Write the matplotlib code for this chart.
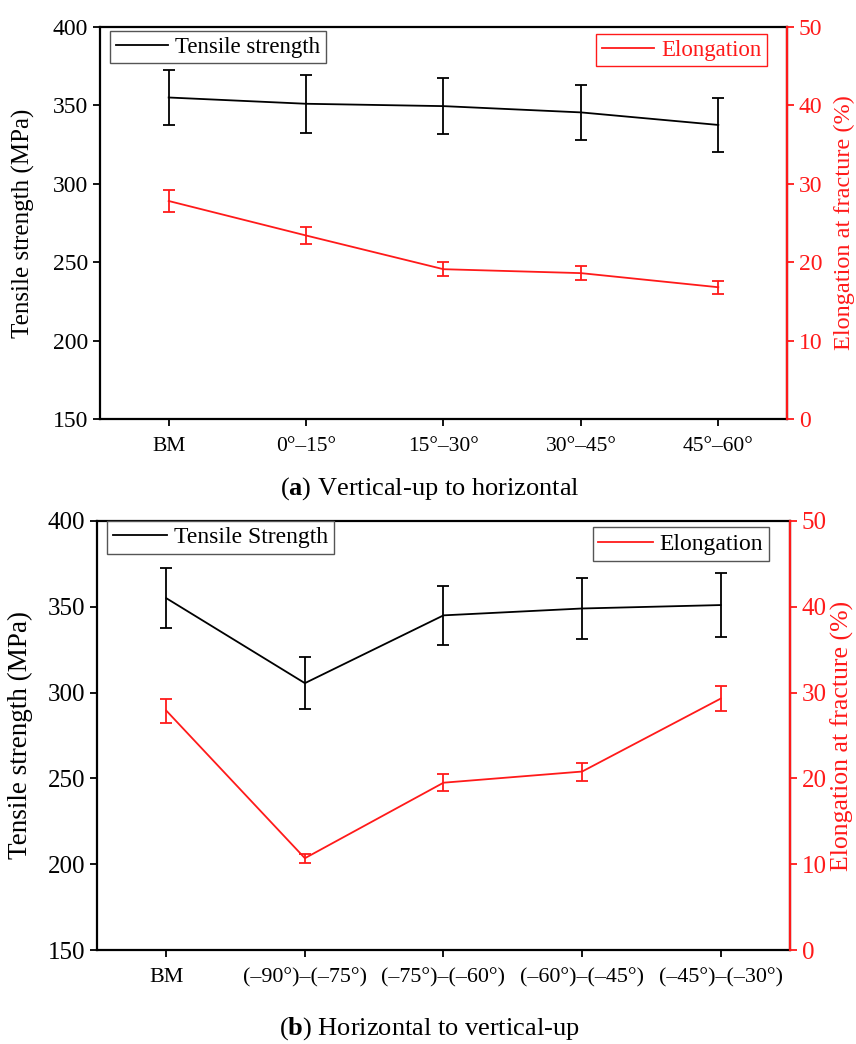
"""Tensile strength and elongation vs. welding position, two panels."""

import matplotlib
matplotlib.use("Agg")
import matplotlib.pyplot as plt
from matplotlib.lines import Line2D
import numpy as np

plt.rcParams["font.family"] = ["Liberation Serif", "DejaVu Serif"]
plt.rcParams["mathtext.fontset"] = "custom"
plt.rcParams["mathtext.rm"] = "Liberation Serif"
plt.rcParams["mathtext.bf"] = "Liberation Serif:bold"

RED = "#ff1a1a"

# panel (a): vertical-up to horizontal
cats_a = ["BM", "0°–15°", "15°–30°", "30°–45°", "45°–60°"]
ts_a = [355.0, 351.0, 349.5, 345.5, 337.5]
ts_err_a = [17.5, 18.5, 18.0, 17.7, 17.0]
el_a = [27.8, 23.4, 19.1, 18.6, 16.8]
el_err_a = [1.4, 1.1, 0.9, 0.9, 0.8]

# panel (b): horizontal to vertical-up
cats_b = ["BM", "(–90°)–(–75°)", "(–75°)–(–60°)", "(–60°)–(–45°)", "(–45°)–(–30°)"]
ts_b = [355.0, 305.5, 345.0, 349.0, 351.0]
ts_err_b = [17.5, 15.0, 17.0, 18.0, 18.5]
el_b = [27.9, 10.7, 19.5, 20.8, 29.3]
el_err_b = [1.4, 0.5, 1.0, 1.05, 1.45]


def draw_panel(ax, cats, ts, ts_err, el, el_err, ts_name, el_text_color,
               el_edge_color, ts_leg_anchor, el_leg_anchor, sizes):
    x = np.arange(len(cats))
    ax.errorbar(x, ts, yerr=ts_err, color="black", lw=1.3, elinewidth=1.3,
                capsize=4, capthick=1.3)
    ax.set_xlim(-0.5, 4.5)
    ax.set_ylim(150, 400)
    ax.set_yticks([150, 200, 250, 300, 350, 400])
    ax.set_xticks(x)
    ax.set_xticklabels(cats, fontsize=sizes["xtick"])
    ax.tick_params(axis="y", labelsize=sizes["ytick"], direction="out",
                   length=5, width=1.3)
    ax.tick_params(axis="x", direction="out", length=5, width=1.3, pad=8)
    ax.set_ylabel("Tensile strength (MPa)", fontsize=sizes["left"])
    ax.yaxis.set_label_coords(sizes["left_x"], 0.5)
    for s in ax.spines.values():
        s.set_linewidth(1.6)

    ax2 = ax.twinx()
    ax2.errorbar(x, el, yerr=el_err, color=RED, lw=1.3, elinewidth=1.3,
                 capsize=4, capthick=1.3)
    ax2.set_ylim(0, 50)
    ax2.set_yticks([0, 10, 20, 30, 40, 50])
    ax2.tick_params(axis="y", colors=RED, labelsize=sizes["ytick"],
                    direction="out", length=5, width=1.3)
    ax2.spines["right"].set_color(RED)
    ax2.spines["right"].set_linewidth(1.6)
    for side in ("left", "top", "bottom"):
        ax2.spines[side].set_visible(False)
    ax2.set_ylabel("Elongation at fracture (%)", fontsize=sizes["right"],
                   color=RED)
    ax2.yaxis.set_label_coords(sizes["right_x"], 0.5)

    leg_kw = dict(fontsize=sizes["legend"], fancybox=False, framealpha=1,
                  borderpad=0.25, handlelength=2.3, handletextpad=0.3,
                  borderaxespad=0)
    h1 = [Line2D([], [], color="black", lw=1.3)]
    leg1 = ax.legend(h1, [ts_name], loc="upper left",
                     bbox_to_anchor=ts_leg_anchor, **leg_kw)
    leg1.get_frame().set_edgecolor("#555555")
    leg1.get_frame().set_linewidth(1.0)
    h2 = [Line2D([], [], color=RED, lw=1.3)]
    leg2 = ax2.legend(h2, ["Elongation"], loc="upper right",
                      bbox_to_anchor=el_leg_anchor, **leg_kw)
    leg2.get_frame().set_edgecolor(el_edge_color)
    leg2.get_frame().set_linewidth(1.0)
    for t in leg2.get_texts():
        t.set_color(el_text_color)
    return ax2


fig = plt.figure(figsize=(8.56, 10.44), dpi=100)

ax_a = fig.add_axes([0.1168, 0.5987, 0.8026, 0.3755])
draw_panel(ax_a, cats_a, ts_a, ts_err_a, el_a, el_err_a, "Tensile strength",
           RED, RED, (0.0146, 0.99), (0.971, 0.982),
           dict(xtick=15.5, ytick=17, left=18, right=17.5, legend=16.5,
                left_x=-0.094, right_x=1.068))

ax_b = fig.add_axes([0.1133, 0.0900, 0.8096, 0.4110])
draw_panel(ax_b, cats_b, ts_b, ts_err_b, el_b, el_err_b, "Tensile Strength",
           "black", "#555555", (0.0144, 1.0), (0.97, 0.985),
           dict(xtick=15.8, ytick=18, left=19.5, right=18.5, legend=17,
                left_x=-0.093, right_x=1.058))

fig.text(0.502, 0.5316, r"($\mathbf{a}$) Vertical-up to horizontal",
         ha="center", va="center", fontsize=19)
fig.text(0.502, 0.0145, r"($\mathbf{b}$) Horizontal to vertical-up",
         ha="center", va="center", fontsize=19)

fig.savefig("out.png", dpi=100)
